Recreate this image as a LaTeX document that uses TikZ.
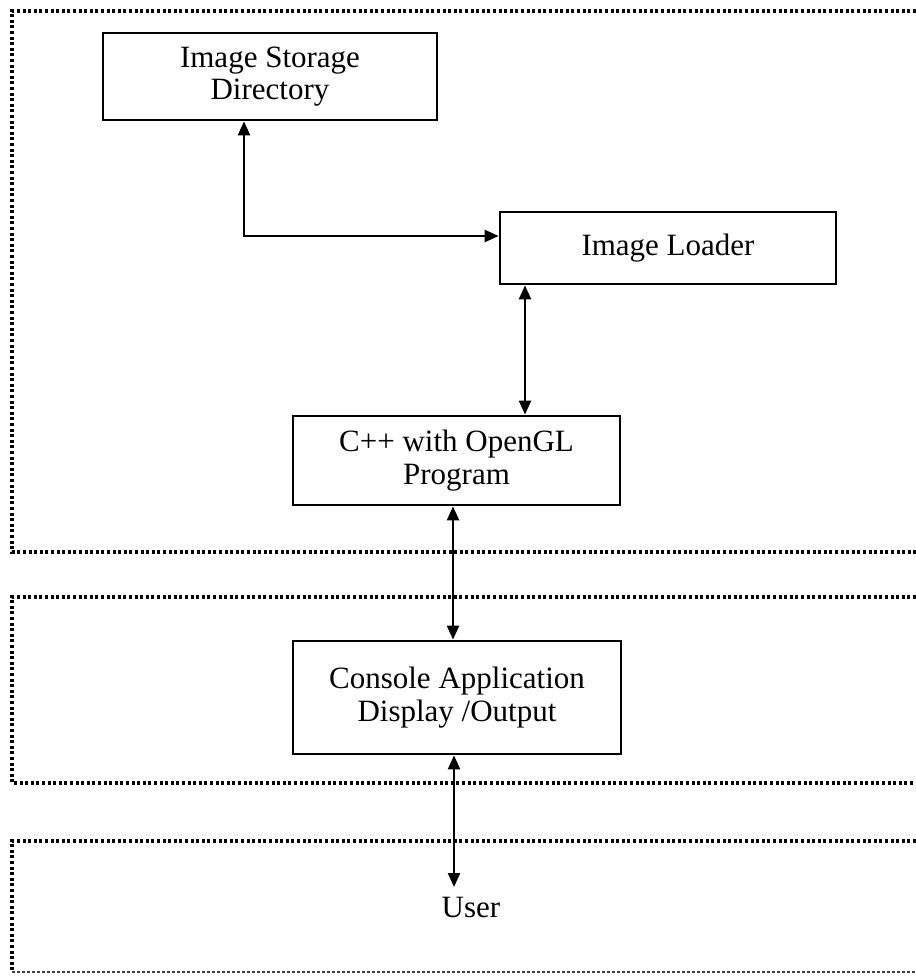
\documentclass[tikz,border=0pt]{standalone}
\usepackage{fontspec}
\setmainfont{Liberation Serif}
\usetikzlibrary{arrows.meta}
\begin{document}
\begin{tikzpicture}[x=1pt,y=-1pt,
  boxnode/.style={draw,line width=2.8pt,align=center,font=\fontsize{31}{32.5}\selectfont,inner sep=0pt},
  plain/.style={align=center,font=\fontsize{31}{32.5}\selectfont,inner xsep=2pt,inner ysep=9.5pt},
  layer/.style={line width=3.2pt,dash pattern=on 3pt off 2.6pt},
  layerthin/.style={line width=1.4pt,dash pattern=on 3pt off 2pt,black!75},
  link/.style={line width=2.4pt,{Triangle[length=14pt,width=12pt]}-{Triangle[length=14pt,width=12pt]}}]
\useasboundingbox (0,0) rectangle (916,978);
% layers
\draw[layer] (916,11) -- (12,11) -- (12,552) -- (916,552);
\draw[layer] (916,597) -- (12,597) -- (12,783) -- (916,783);
\draw[layer] (916,841) -- (12,841) -- (12,972);
\draw[layerthin] (12,972) -- (916,972);
% boxes
\node[boxnode,minimum width=334pt,minimum height=87pt] (isd) at (270,76.5) {Image Storage\\Directory};
\node[boxnode,minimum width=336pt,minimum height=72pt] (il) at (668,248) {Image Loader};
\node[boxnode,minimum width=327pt,minimum height=89pt] (cpp) at (456.5,460.5) {C++ with OpenGL\\Program};
\node[boxnode,minimum width=328pt,minimum height=113pt] (con) at (457,697.5) {Console Application\\Display /Output};
\node[plain,anchor=base] (user) at (471,917) {User};
% connectors
\coordinate (bend) at (244,236);
\coordinate (xa) at (525,0);
\coordinate (xb) at (453,0);
\coordinate (xc) at (454,0);
\draw[link] (isd.south -| bend) -- (bend) -- (bend -| il.west);
\draw[link] (il.south -| xa) -- (cpp.north -| xa);
\draw[link] (cpp.south -| xb) -- (con.north -| xb);
\draw[link] (con.south -| xc) -- (user.north -| xc);
\end{tikzpicture}
\end{document}
